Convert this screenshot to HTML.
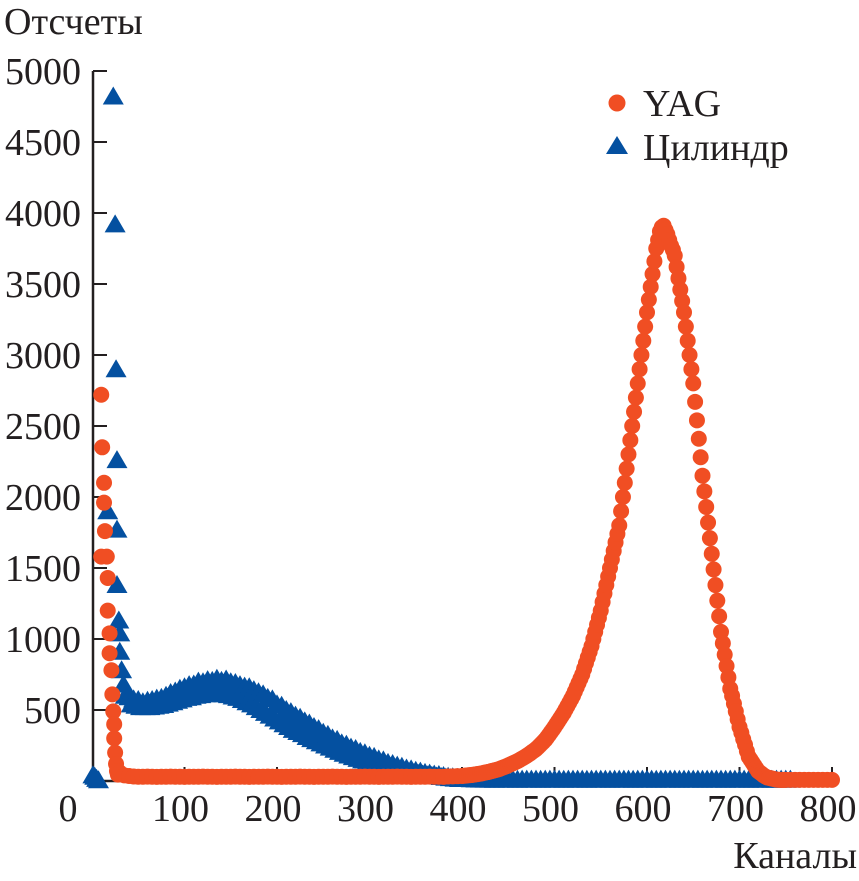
<!DOCTYPE html>
<html><head><meta charset="utf-8"><style>
html,body{margin:0;padding:0;background:#fff;}
svg{display:block;font-family:"Liberation Serif",serif;}
</style></head><body>
<svg id="chart" width="859" height="881" viewBox="0 0 859 881" xmlns="http://www.w3.org/2000/svg">
<g id="axes"></g>
<g id="marks"></g>
<g id="legend">
  <circle cx="617" cy="103" r="8.5" fill="#F04E23"/>
  <text x="643" y="116" font-size="38" fill="#231f20">YAG</text>
  <polygon points="617,136 606,154 628,154" fill="#0450A0"/>
  <text x="643" y="160" font-size="38" fill="#231f20">Цилиндр</text>
</g>
<text x="4" y="34" font-size="38" fill="#231f20">Отсчеты</text>
<text x="857" y="868" font-size="38" text-anchor="end" fill="#231f20">Каналы</text>
</svg>
<script>
const xTicks = [0,100,200,300,400,500,600,700,800];
const yTicks = [500,1000,1500,2000,2500,3000,3500,4000,4500,5000];
// YAG early points (channel, counts)
const yagEarlyCh = [10,11,13,13,14,10,16,17,17,19,19,21,22,23,24,24,25,26,27,28];
const yagEarlyVal = [2720,2350,2100,1960,1760,1580,1580,1430,1200,1040,900,780,610,490,400,300,200,120,70,45];
// YAG flat region, channel 30..395 step 5
const yagStart = 30, yagStep = 5;
const yagCounts = [60,40,35,32,30,30,31,30,29,30,30,31,30,30,29,30,30,30,31,30,30,29,30,30,30,31,30,30,29,30,30,30,31,30,30,29,30,30,30,31,30,30,29,30,30,30,31,30,30,29,30,30,30,31,30,30,29,30,30,30,31,30,30,29,30,30,30,31,30,30,29,32,33,34];
// YAG peak region, channel 400..748 step 2
const yagPeakStart = 400, yagPeakStep = 2;
const yagPeak = [35,37,38,40,41,42,44,46,48,50,52,55,58,61,63,66,70,73,77,80,84,89,94,99,104,110,116,122,128,134,140,147,155,162,170,178,187,196,206,215,225,237,250,263,276,290,307,325,343,361,380,400,420,440,460,480,504,528,552,576,600,630,660,690,720,750,790,830,870,910,950,1000,1050,1100,1150,1200,1260,1320,1380,1440,1500,1560,1620,1680,1740,1800,1900,2000,2100,2200,2300,2400,2500,2600,2700,2800,2900,3000,3100,3200,3300,3390,3480,3570,3660,3750,3810,3870,3900,3910,3880,3850,3810,3770,3740,3700,3620,3540,3460,3380,3300,3200,3100,3000,2900,2800,2670,2540,2410,2280,2150,2040,1930,1820,1710,1600,1490,1380,1270,1160,1050,970,890,810,730,650,600,545,490,435,380,340,295,255,210,170,150,130,110,90,70,60,50,40,32,25,22,19,16,13,10,9,8,8,8];
// YAG tail, channel 750..800 step 5
const yagTailStart = 750, yagTailStep = 5;
const yagTail = [8,8,8,8,8,8,8,8,8,8,8];
// Cylinder early points
const cylEarlyCh = [1,3,5,7,23,25,26,27,17,27,27,29,30,30,32,34,36];
const cylEarlyVal = [40,30,15,5,4820,3920,2900,2260,1900,1770,1380,1130,1040,910,780,680,600];
// Cylinder upper band, channel 40..800 step 5
const cylStart = 40, cylStep = 5;
const cylCounts = [590,575,570,555,565,570,580,585,600,620,630,650,660,675,680,700,695,710,705,720,705,715,695,690,675,665,660,640,625,610,585,575,540,530,500,485,460,445,420,405,380,365,340,325,300,290,265,255,235,225,205,195,178,170,152,145,128,120,108,100,88,82,72,66,57,52,45,42,35,30,26,22,19,16,
12,11,10,10,10,9,10,10,10,10,9,10,10,10,10,9,10,10,10,10,9,10,10,10,10,9,10,10,10,10,9,10,10,10,10,9,10,10,10,10,9,10,10,10,10,9,10,10,10,10,9,10,10,10,10,9,10,10,10,10,9,10,10,10,10,9,10,10,10,10];
// Cylinder lower band, channel 42.5..397.5 step 5
const cylLowStart = 42.5, cylLowStep = 5;
const cylLower = [540,530,520,520,520,525,530,535,545,555,565,575,585,590,600,605,610,615,615,615,610,605,595,585,570,555,540,520,500,480,460,440,420,400,380,360,345,330,310,295,280,265,250,235,220,205,192,180,168,156,145,135,125,116,107,98,90,82,75,68,62,56,50,45,40,36,32,28,24,20,17,14];

const NS = "http://www.w3.org/2000/svg";
const x0 = 92, xScale = 0.925, y0 = 781, yScale = 0.142;
const X = v => x0 + v * xScale;
const Y = v => y0 - v * yScale;
const axes = document.getElementById('axes');
const marks = document.getElementById('marks');
function mk(tag, attrs, parent){const e=document.createElementNS(NS,tag);for(const k in attrs)e.setAttribute(k,attrs[k]);parent.appendChild(e);return e;}

let l = mk('line',{x1:93,y1:Y(5000),x2:93,y2:y0+1,stroke:'#231f20','stroke-width':2.5},axes);


l = mk('line',{x1:92,y1:y0,x2:X(800),y2:y0,stroke:'#231f20','stroke-width':2.5},axes);


yTicks.forEach(v=>{
  const t = mk('line',{x1:93,y1:Y(v),x2:107,y2:Y(v),stroke:'#231f20','stroke-width':2},axes);
  
  
  const tx = mk('text',{x:81,y:Y(v)+13,'font-size':38,'text-anchor':'end',fill:'#231f20'},axes);
  tx.textContent = v;
  
  
});
xTicks.forEach(v=>{
  if(v>0){
    const t = mk('line',{x1:X(v),y1:y0,x2:X(v),y2:y0-14,stroke:'#231f20','stroke-width':2},axes);
    
    
  }
  const tx = mk('text',{x:v===0?68:X(v)-4,y:821,'font-size':38,'text-anchor':'middle',fill:'#231f20'},axes);
  tx.textContent = v;
  
  
});

function tri(ch,val){
  const cx=X(ch), cy=Y(val);
  const p = mk('polygon',{points:`${cx},${cy-10} ${cx-10.5},${cy+8} ${cx+10.5},${cy+8}`,fill:'#0450A0'},marks);
  
  
}
function dot(ch,val){
  const c = mk('circle',{cx:X(ch),cy:Y(val),r:8,fill:'#F04E23'},marks);
  
  
}
cylEarlyCh.forEach((c,i)=>tri(c,cylEarlyVal[i]));
cylLower.forEach((v,i)=>tri(cylLowStart+i*cylLowStep,v));
cylCounts.forEach((v,i)=>tri(cylStart+i*cylStep,v));
yagEarlyCh.forEach((c,i)=>dot(c,yagEarlyVal[i]));
yagCounts.forEach((v,i)=>dot(yagStart+i*yagStep,v));
yagPeak.forEach((v,i)=>dot(yagPeakStart+i*yagPeakStep,v));
yagTail.forEach((v,i)=>dot(yagTailStart+i*yagTailStep,v));
</script>
</body></html>
